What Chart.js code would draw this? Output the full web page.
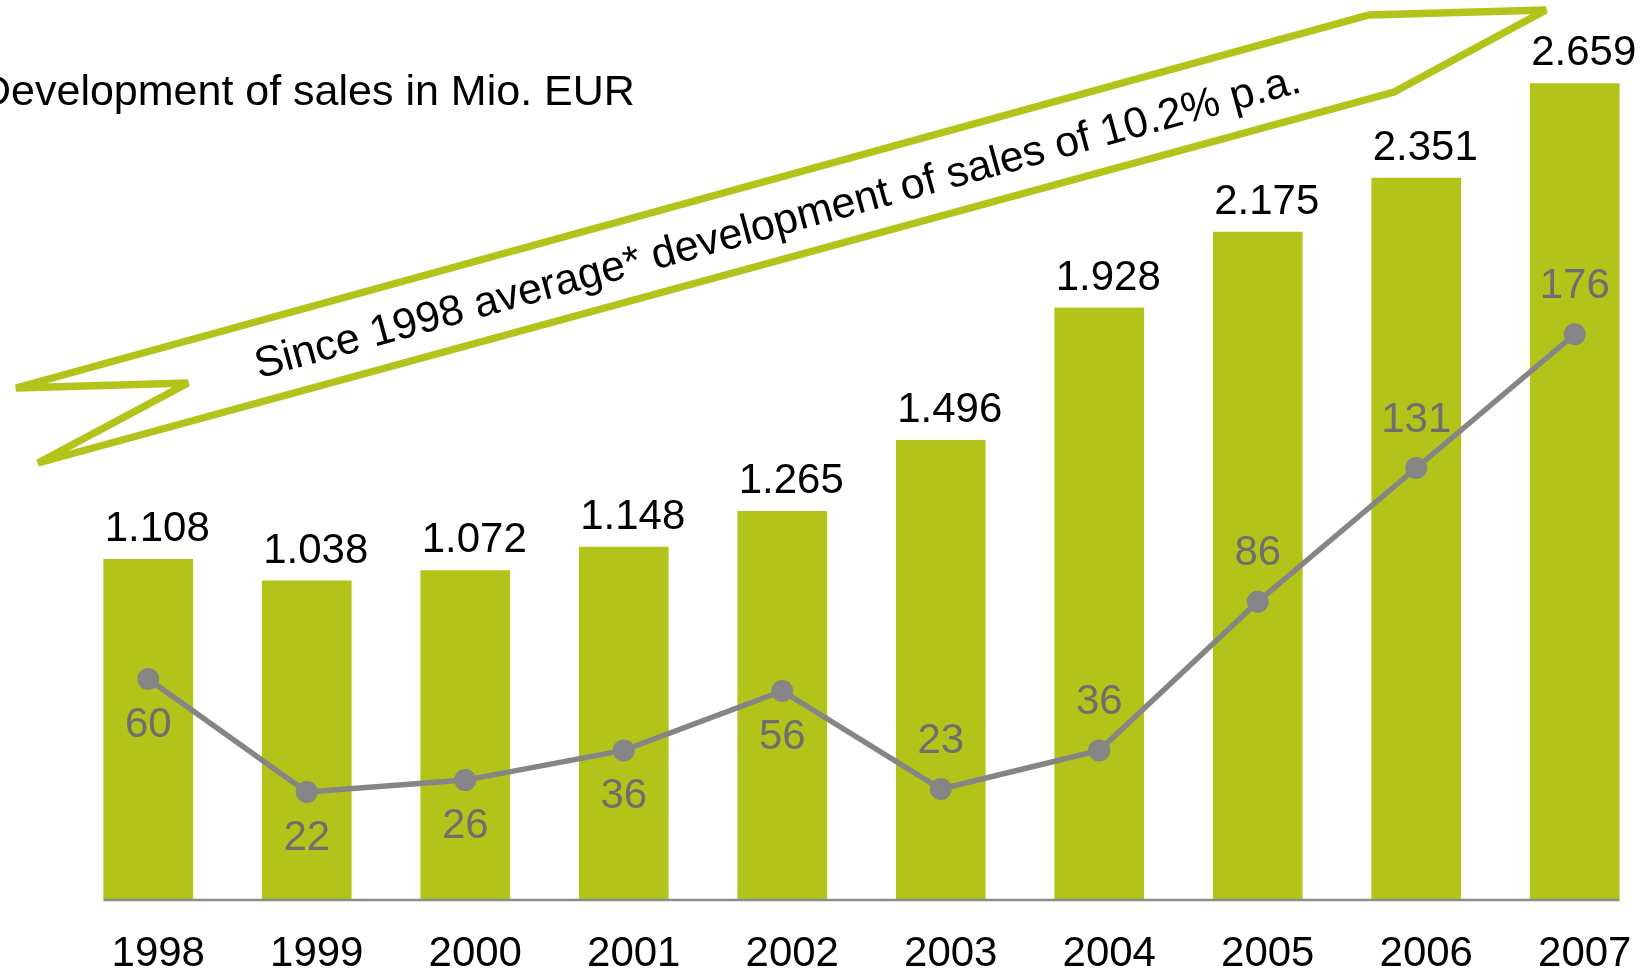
<!DOCTYPE html>
<html>
<head>
<meta charset="utf-8">
<title>Development of sales</title>
<script src="https://cdn.jsdelivr.net/npm/chart.js@4.4.1/dist/chart.umd.min.js"></script>
<style>
  html, body { margin: 0; padding: 0; background: #fff; overflow: hidden; }
  #wrap { position: relative; width: 1665px; height: 970px; }
</style>
</head>
<body>
<div id="wrap"><canvas id="sales"></canvas></div>
<script>
"use strict";

const years = ['1998', '1999', '2000', '2001', '2002', '2003', '2004', '2005', '2006', '2007'];
const sales = [1108, 1038, 1072, 1148, 1265, 1496, 1928, 2175, 2351, 2659];
const earnings = [60, 22, 26, 36, 56, 23, 36, 86, 131, 176];

const titleText = 'Development of sales in Mio. EUR';
const ribbonText = 'Since 1998 average* development of sales of 10.2% p.a.';

const GREEN = '#b2c41a';
const GREY = '#858585';
const LABEL_GREY = '#6e6e6e';
const FONT = '"Liberation Sans", Arial, Helvetica, sans-serif';

// german style thousands separator: 1108 -> 1.108
function fmt(v) {
  return Math.floor(v / 1000) + '.' + String(v % 1000).padStart(3, '0');
}

// ribbon arrow outline (decoration only)
const ribbon = [[16, 388], [1369, 15], [1546, 10], [1394, 92], [38, 463], [188, 383]];

const decorations = {
  id: 'decorations',
  afterDatasetsDraw(chart) {
    const ctx = chart.ctx;
    const barMeta = chart.getDatasetMeta(1).data;
    const lineMeta = chart.getDatasetMeta(0).data;
    const y0 = chart.scales.y.getPixelForValue(0);

    ctx.save();

    // base line under the bars
    const first = barMeta[0], last = barMeta[barMeta.length - 1];
    ctx.strokeStyle = '#8c8c8c';
    ctx.lineWidth = 2.5;
    ctx.beginPath();
    ctx.moveTo(first.x - first.width / 2, y0 + 1);
    ctx.lineTo(last.x + last.width / 2, y0 + 1);
    ctx.stroke();

    // value labels above bars
    ctx.font = '42px ' + FONT;
    ctx.fillStyle = '#000';
    ctx.textAlign = 'center';
    ctx.textBaseline = 'alphabetic';
    barMeta.forEach((el, i) => {
      ctx.fillText(fmt(sales[i]), el.x + 9, el.y - 18);
    });

    // labels for the grey line, below for the first five, above after
    ctx.fillStyle = LABEL_GREY;
    ctx.textBaseline = 'middle';
    lineMeta.forEach((el, i) => {
      const dy = i < 5 ? 46 : -48;
      ctx.fillText(String(earnings[i]), el.x, el.y + dy);
    });

    // title
    ctx.fillStyle = '#000';
    ctx.textAlign = 'left';
    ctx.textBaseline = 'alphabetic';
    ctx.font = '43px ' + FONT;
    ctx.fillText(titleText, -20, 105);

    // ribbon arrow
    ctx.strokeStyle = GREEN;
    ctx.lineWidth = 7.5;
    ctx.lineJoin = 'miter';
    ctx.miterLimit = 1.5;
    ctx.beginPath();
    ribbon.forEach(([x, y], i) => i ? ctx.lineTo(x, y) : ctx.moveTo(x, y));
    ctx.closePath();
    ctx.stroke();

    ctx.translate(781, 235);
    ctx.rotate(-Math.atan2(272, 990));
    ctx.font = '43px ' + FONT;
    ctx.textAlign = 'center';
    ctx.fillText(ribbonText, 0, 0);

    ctx.restore();
  }
};

new Chart(document.getElementById('sales'), {
  type: 'bar',
  data: {
    labels: years,
    datasets: [
      {
        type: 'line',
        data: earnings,
        yAxisID: 'y2',
        order: 0,
        borderColor: GREY,
        borderWidth: 5.5,
        backgroundColor: GREY,
        pointRadius: 11,
        pointBackgroundColor: GREY,
        pointBorderWidth: 0,
        tension: 0,
      },
      {
        data: sales,
        yAxisID: 'y',
        order: 1,
        backgroundColor: GREEN,
        categoryPercentage: 1,
        barPercentage: 0.566,
      },
    ],
  },
  options: {
    responsive: true,
    maintainAspectRatio: false,
    animation: false,
    layout: { padding: { left: 69, right: 6, top: 40, bottom: 0 } },
    plugins: {
      legend: { display: false },
      tooltip: { enabled: false },
    },
    scales: {
      x: {
        grid: { display: false },
        border: { display: false },
        ticks: {
          color: '#000',
          padding: 22,
          labelOffset: 10,
          font: { family: FONT, size: 42 },
        },
        afterFit(scale) { scale.height = 71; },
      },
      y: { display: false, min: 0, max: 2800 },
      y2: { display: false, min: -14, max: 275 },
    },
  },
  plugins: [decorations],
});
</script>
</body>
</html>
